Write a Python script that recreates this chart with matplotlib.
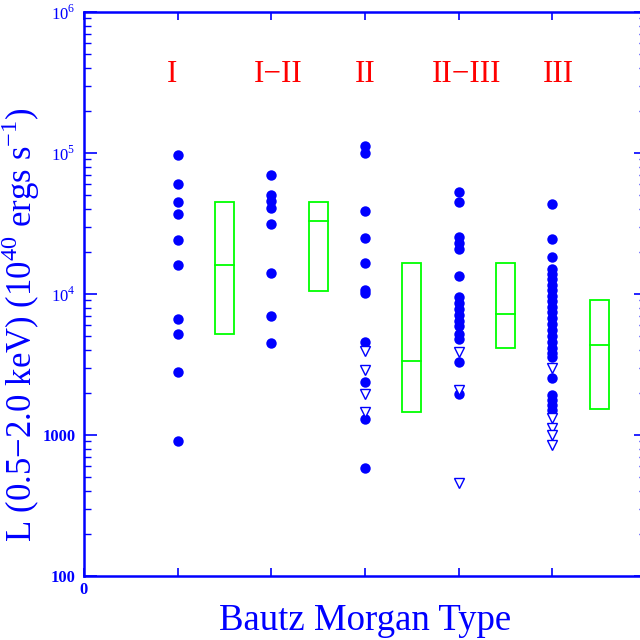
import matplotlib
matplotlib.use("Agg")
import matplotlib.pyplot as plt
from matplotlib.patches import Rectangle
from matplotlib.ticker import LogLocator, NullFormatter

plt.rcParams['font.family'] = ['Liberation Serif', 'DejaVu Serif']
plt.rcParams['mathtext.fontset'] = 'custom'
plt.rcParams['mathtext.rm'] = 'Liberation Serif'

blue = '#0000ff'
red = '#ff0000'
green = '#00ff00'

# Bautz-Morgan classes
bm_types = ['I', 'I\u2212II', 'II', 'II\u2212III', 'III']
bm_x = [1, 2, 3, 4, 5]
label_x = [0.94, 2.07, 3.0, 4.09, 5.06]

# detections (filled circles), luminosity in 1e40 erg/s
det_I = [97000, 60600, 45100, 37100, 24200, 16000, 6620, 5230, 2810, 912]
det_I_II = [69500, 50400, 45700, 40900, 31200, 14200, 7020, 4470]
det_II = [112000, 100500, 38800, 24800, 16500, 10700, 10100, 4570, 2360, 1290, 586]
det_II_III = [52600, 44700, 25400, 23000, 20900, 13500, 9520, 8630, 7830, 7100,
              6440, 5940, 5200, 4800, 3310, 1950]
det_III = [43800, 24400, 18300, 15000, 13900, 12800, 11600, 10700, 9680, 8920,
           8090, 7460, 6760, 6130, 5560, 5040, 4570, 4140, 3820, 3580,
           2540, 1920, 1770, 1630, 1500]

# upper limits (open triangles)
lim_I = []
lim_I_II = []
lim_II = [3940, 2890, 1950, 1460]
lim_II_III = [3900, 2090, 454]
lim_III = [2990, 1320, 1120, 1000, 850]

# boxes: lower quartile, median, upper quartile
box_x = [1.5, 2.5, 3.5, 4.5, 5.5]
box_lo = [5230, 10550, 1456, 4120, 1530]
box_med = [16000, 32700, 3330, 7180, 4350]
box_hi = [45100, 44600, 16500, 16700, 9020]

detections = [det_I, det_I_II, det_II, det_II_III, det_III]
limits = [lim_I, lim_I_II, lim_II, lim_II_III, lim_III]

fig = plt.figure(figsize=(6.4, 6.4), dpi=100)
ax = fig.add_axes([84 / 640, 64 / 640, 562 / 640, 564 / 640])
ax.set_yscale('log')
ax.set_xlim(0, 6)
ax.set_ylim(100, 1e6)

for x, det, lim in zip(bm_x, detections, limits):
    ax.plot([x] * len(det), det, 'o', color=blue, markersize=7.5, markeredgewidth=0)
    if lim:
        ax.plot([x] * len(lim), lim, 'v', markerfacecolor='white', markeredgecolor=blue,
                markersize=7, markeredgewidth=1.0)

bw = 0.2
for x, lo, med, hi in zip(box_x, box_lo, box_med, box_hi):
    ax.add_patch(Rectangle((x - bw / 2, lo), bw, hi - lo, fill=False,
                           edgecolor=green, linewidth=1.3))
    ax.plot([x - bw / 2, x + bw / 2], [med, med], color=green, linewidth=1.3)

for lx, name in zip(label_x, bm_types):
    ax.text(lx, 3.6e5, name, color=red, fontsize=22.5, ha='center', va='center')

for s in ax.spines.values():
    s.set_color(blue)
    s.set_linewidth(1.8)

ax.set_xticks(range(0, 7))
ax.set_xticklabels(['0', '', '', '', '', '', ''])
ax.set_yticks([100, 1000, 1e4, 1e5, 1e6])
ax.set_yticklabels(['100', '1000', '$10^4$', '$10^5$', '$10^6$'])
ax.yaxis.set_minor_locator(LogLocator(base=10, subs=range(2, 10)))
ax.yaxis.set_minor_formatter(NullFormatter())
ax.tick_params(axis='x', which='major', direction='in', length=6, width=1.2,
               color=blue, labelcolor=blue, labelsize=12, top=True, pad=4)
ax.tick_params(axis='y', which='major', direction='in', length=9, width=1.2,
               color=blue, labelcolor=blue, labelsize=12, right=True, pad=6)
ax.tick_params(axis='y', which='minor', direction='in', length=5, width=1.0,
               color=blue, right=True)
for t in ax.get_xticklabels() + ax.get_yticklabels():
    t.set_fontweight('bold')

ax.set_xlabel('Bautz Morgan Type', color=blue, fontsize=26.5)
ax.xaxis.set_label_coords(0.5, -0.048)
ax.xaxis.label.set_va('top')
ax.set_ylabel('L (0.5\u22122.0 keV) (10$^{40}$ ergs s$^{-1}$)', color=blue, fontsize=25)
ax.yaxis.set_label_coords(-0.075, 0.445)

fig.savefig('out.png', dpi=100)
